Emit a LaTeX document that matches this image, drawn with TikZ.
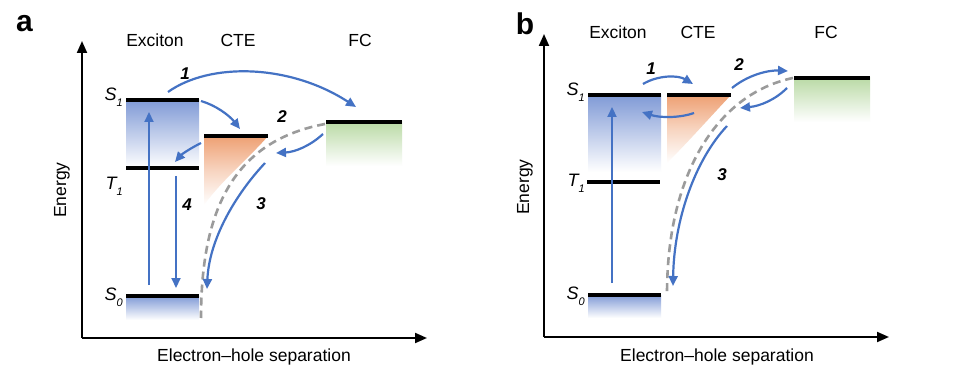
\documentclass[tikz,border=0pt]{standalone}
\usepackage{fontspec}
\setmainfont{Liberation Sans}
\usetikzlibrary{arrows.meta}
\definecolor{arrblue}{RGB}{68,114,196}
\definecolor{boxblue}{RGB}{128,154,214}
\definecolor{boxorange}{RGB}{238,160,115}
\definecolor{boxgreen}{RGB}{186,218,166}
\definecolor{dashgray}{RGB}{155,155,155}
\newcommand{\lvlab}[2]{\itshape #1\raisebox{-0.6ex}{\fontsize{11}{12}\selectfont #2}}
\tikzset{
  lvl/.style={line width=4.3pt},
  barr/.style={draw=arrblue, line width=2.2pt, -{Triangle[length=10pt,width=9pt]}},
  gdash/.style={draw=dashgray, line width=2.6pt, dash pattern=on 8pt off 5pt},
  axis/.style={line width=2pt, -{Triangle[length=12pt,width=10pt]}},
  hdr/.style={font=\fontsize{17.5}{20}\selectfont, inner sep=0pt},
  num/.style={font=\fontsize{17}{20}\selectfont\bfseries\itshape, inner sep=0pt},
  lab/.style={font=\fontsize{18}{20}\selectfont, inner sep=0pt, anchor=east},
  panel/.style={font=\fontsize{30}{32}\selectfont\bfseries, inner sep=0pt},
  orshade/.style={top color=boxorange, bottom color=white, middle color=boxorange!45}
}
\begin{document}
\begin{tikzpicture}[x=1pt,y=-1pt]
\useasboundingbox[fill=white] (0,0) rectangle (969,390);

% ================= panel a =================
\node[panel] (pa) at (24.5,24) {a};
\coordinate (oa) at (82,338);
\coordinate (ya) at (82,41);
\coordinate (xa) at (427,338);
\draw[axis] (oa) -- (ya);
\draw[axis] (oa) -- (xa);
\node[hdr, rotate=90] (ena) at (62,190) {Energy};
\node[hdr] (sepa) at (254,357) {Electron–hole separation};
\node[hdr] (exa) at (155,40) {Exciton};
\node[hdr] (ctea) at (238,40) {CTE};
\node[hdr] (fca) at (360,40) {FC};

% shaded regions
\shade[top color=boxblue, bottom color=white] (126,100) rectangle (199,168);
\shade[top color=boxblue, bottom color=white] (126,296) rectangle (199,320);
\shade[orshade] (204,136) -- (268,136) .. controls (252,155) and (222,180) .. (204,205) -- cycle;
\shade[top color=boxgreen, bottom color=white] (326,122) rectangle (402,166);

% levels
\draw[lvl] (126,100) coordinate (s1l) -- (199,100) coordinate (s1r);
\draw[lvl] (126,168) coordinate (t1l) -- (199,168) coordinate (t1r);
\draw[lvl] (126,296) coordinate (s0l) -- (199,296) coordinate (s0r);
\draw[lvl] (204,136) coordinate (ctel) -- (268,136) coordinate (cter);
\draw[lvl] (326,122) coordinate (fcl) -- (402,122) coordinate (fcr);

\node[lab] (s1a) at (123,97) {\lvlab{S}{1}};
\node[lab] (t1a) at (123,186) {\lvlab{T}{1}};
\node[lab] (s0a) at (123,297) {\lvlab{S}{0}};

% dashed curve
\coordinate (da1) at (325,124);
\coordinate (da2) at (201,318);
\draw[gdash] (da1) .. controls (240,140) and (201,200) .. (da2);

% arrows
\coordinate (a1s) at (168,92);  \coordinate (a1e) at (356,107);
\draw[barr] (a1s) .. controls (210,62) and (290,64) .. (a1e);
\node[num] (n1a) at (185,74) {1};
\coordinate (a2s) at (201,101); \coordinate (a2e) at (240,129);
\draw[barr] (a2s) .. controls (215,105) and (229,115) .. (a2e);
\coordinate (a3s) at (201,143); \coordinate (a3e) at (175,162);
\draw[barr] (a3s) .. controls (191,148) and (182,154) .. (a3e);
\node[num] (n2a) at (282,117) {2};
\coordinate (a4s) at (323,134); \coordinate (a4e) at (276,153);
\draw[barr] (a4s) .. controls (310,146) and (295,152) .. (a4e);
\coordinate (a5s) at (265,163); \coordinate (a5e) at (207,289);
\draw[barr] (a5s) .. controls (235,195) and (209,240) .. (a5e);
\node[num] (n3a) at (261,204) {3};
\coordinate (a6s) at (149,285); \coordinate (a6e) at (149,112);
\draw[barr] (a6s) -- (a6e);
\coordinate (a7s) at (176,176); \coordinate (a7e) at (176,288);
\draw[barr] (a7s) -- (a7e);
\node[num] (n4a) at (187,205) {4};

% ================= panel b =================
\node[panel] (pb) at (525,24) {b};
\coordinate (ob) at (544,337);
\coordinate (yb) at (544,34);
\coordinate (xb) at (889,337);
\draw[axis] (ob) -- (yb);
\draw[axis] (ob) -- (xb);
\node[hdr, rotate=90] (enb) at (525,187) {Energy};
\node[hdr] (sepb) at (717,357) {Electron–hole separation};
\node[hdr] (exb) at (618,32) {Exciton};
\node[hdr] (cteb) at (698,32) {CTE};
\node[hdr] (fcb) at (826,32) {FC};

\shade[top color=boxblue, bottom color=white] (588,95) rectangle (661,172);
\shade[top color=boxblue, bottom color=white] (588,295) rectangle (661,318);
\shade[orshade] (667,95) -- (731,95) .. controls (712,115) and (690,140) .. (667,163) -- cycle;
\shade[top color=boxgreen, bottom color=white] (794,78) rectangle (870,122);

\draw[lvl] (588,95) coordinate (bs1l) -- (661,95) coordinate (bs1r);
\draw[lvl] (587,182) coordinate (bt1l) -- (660,182) coordinate (bt1r);
\draw[lvl] (588,295) coordinate (bs0l) -- (661,295) coordinate (bs0r);
\draw[lvl] (667,95) coordinate (bctel) -- (731,95) coordinate (bcter);
\draw[lvl] (794,78) coordinate (bfcl) -- (870,78) coordinate (bfcr);

\node[lab] (s1b) at (585,92) {\lvlab{S}{1}};
\node[lab] (t1b) at (585,183) {\lvlab{T}{1}};
\node[lab] (s0b) at (585,296) {\lvlab{S}{0}};

\coordinate (db1) at (793,78);
\coordinate (db2) at (667,294);
\draw[gdash] (db1) .. controls (720,93) and (667,170) .. (db2);

\coordinate (b1s) at (643,84); \coordinate (b1e) at (693,84);
\draw[barr] (b1s) .. controls (658,75) and (678,75) .. (b1e);
\node[num] (n1b) at (651,69) {1};
\coordinate (b2s) at (694,113); \coordinate (b2e) at (642,112);
\draw[barr] (b2s) .. controls (680,118) and (660,118) .. (b2e);
\node[num] (n2b) at (739,65) {2};
\coordinate (b3s) at (732,88); \coordinate (b3e) at (788,71);
\draw[barr] (b3s) .. controls (748,75) and (768,70) .. (b3e);
\coordinate (b4s) at (787,88); \coordinate (b4e) at (740,108);
\draw[barr] (b4s) .. controls (775,100) and (760,106) .. (b4e);
\coordinate (b5s) at (727,126); \coordinate (b5e) at (673,286);
\draw[barr] (b5s) .. controls (695,160) and (674,220) .. (b5e);
\node[num] (n3b) at (722,175) {3};
\coordinate (b6s) at (612,283); \coordinate (b6e) at (612,107);
\draw[barr] (b6s) -- (b6e);
\end{tikzpicture}
\end{document}
